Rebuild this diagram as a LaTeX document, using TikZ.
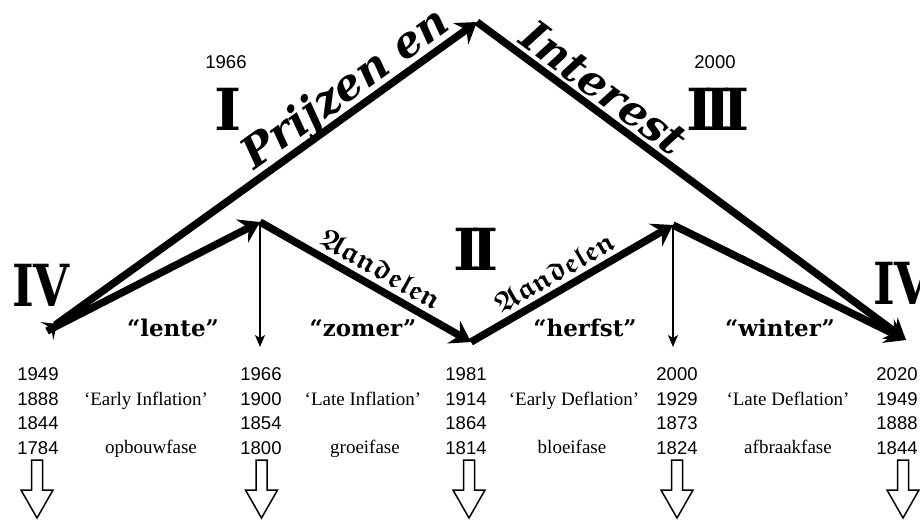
\documentclass[tikz,border=0pt]{standalone}
\usepackage{fontspec}
\usepackage{amsmath,amssymb}
\usepackage{graphicx}
\setmainfont{Liberation Serif}
\newfontfamily\sansf{Liberation Sans}
\newfontfamily\slabf{DejaVu Serif}
\usetikzlibrary{arrows.meta}
\tikzset{
  thickline/.style={line width=7.5pt, line join=miter},
  thinarrow/.style={line width=1.2pt, -{Stealth[length=12pt,width=10pt,inset=3pt]}},
  roman/.style={font=\slabf\bfseries\fontsize{58}{58}\selectfont, inner sep=0pt, anchor=base},
  season/.style={font=\slabf\bfseries\fontsize{23}{23}\selectfont, inner sep=0pt, anchor=base},
  years/.style={font=\sansf\fontsize{18.5}{24.5}\selectfont, align=center, inner sep=0pt},
  yeartop/.style={font=\sansf\fontsize{18.5}{18.5}\selectfont, inner sep=0pt, anchor=base},
  phase/.style={font=\fontsize{19}{19}\selectfont, inner sep=0pt, anchor=base},
  bigital/.style={font=\slabf\bfseries\itshape\fontsize{43}{43}\selectfont, inner sep=0pt},
  fraktur/.style={font=\fontsize{29}{29}\selectfont, inner sep=0pt},
  downarrow/.pic={\draw[line width=1.5pt, line join=miter]
     (-5.5,0) -- (5.5,0) -- (5.5,30) -- (16,30) -- (0,58) -- (-16,30) -- (-5.5,30) -- cycle;}
}
\begin{document}
\begin{tikzpicture}[x=1pt,y=-1pt,>={Stealth[length=20pt,width=26pt,inset=7pt]}]
\clip (0,0) rectangle (920,520);
\fill[white] (0,0) rectangle (920,520);
% main points
\coordinate (L) at (47,331);
\coordinate (A) at (477,22);
\coordinate (R) at (906,340);
\coordinate (P1) at (260,222);
\coordinate (V) at (471,342);
\coordinate (P2) at (673,225);
\coordinate (P1b) at (260,347);
\coordinate (P2b) at (673,347);
% big arrow
\draw[thickline,{Stealth[reversed,length=12pt,width=22pt,inset=5pt]}->] (L) -- (A)
  node[pos=0.725, sloped, above=-4pt, bigital] (prijzen) {Prijzen en};
\draw[thickline,->] (A) -- (R)
  node[pos=0.265, sloped, above=3pt, bigital] (interest) {Interest};
% inner zigzag
\draw[thickline,->] (L) -- (P1);
\draw[thickline,->] (P1) -- (V)
  node[pos=0.53, sloped, above=5pt, fraktur] (aand1) {{\boldmath$\mathfrak{Aandelen}$}};
\draw[thickline,->] (V) -- (P2)
  node[pos=0.46, sloped, above=5pt, fraktur] (aand2) {{\boldmath$\mathfrak{Aandelen}$}};
\draw[thickline,->] (P2) -- (R);
% thin arrows
\draw[thinarrow] (P1) -- (P1b);
\draw[thinarrow] (P2) -- (P2b);
% roman numerals
\node[roman] (rI) at (228,130) {I};
\node[roman] (rIII) at (718,130) {I\kern-9pt I\kern-9pt I};
\node[roman] (rII) at (476,270) {I\kern-9pt I};
\node[roman] (rIVl) at (41,306) {\scalebox{0.8}[1]{IV}};
\node[roman, anchor=base west] (rIVr) at (873,304) {\scalebox{0.8}[1]{IV}};
% top years
\node[yeartop] (y1966) at (226,68) {1966};
\node[yeartop] (y2000) at (715,68) {2000};
% seasons
\node[season] (lente) at (173,336) {“lente”};
\node[season] (zomer) at (363,336) {“zomer”};
\node[season] (herfst) at (585,336) {“herfst”};
\node[season] (winter) at (780,336) {“winter”};
% year columns
\node[years] (c1) at (38,411) {1949\\1888\\1844\\1784};
\node[years] (c2) at (261,411) {1966\\1900\\1854\\1800};
\node[years] (c3) at (466,411) {1981\\1914\\1864\\1814};
\node[years] (c4) at (677,411) {2000\\1929\\1873\\1824};
\node[years] (c5) at (897,411) {2020\\1949\\1888\\1844};
% phases
\node[phase] (ph1) at (146,405.5) {‘Early Inflation’};
\node[phase] (ph2) at (363,405.5) {‘Late Inflation’};
\node[phase] (ph3) at (574,405.5) {‘Early Deflation’};
\node[phase] (ph4) at (788,405.5) {‘Late Deflation’};
\node[phase] (f1) at (151,453.5) {opbouwfase};
\node[phase] (f2) at (365,453.5) {groeifase};
\node[phase] (f3) at (572,453.5) {bloeifase};
\node[phase] (f4) at (788,453.5) {afbraakfase};
% block arrows
\pic (b1) at (37,460) {downarrow};
\pic (b2) at (261.5,460) {downarrow};
\pic (b3) at (469,460) {downarrow};
\pic (b4) at (677,460) {downarrow};
\pic (b5) at (903,460) {downarrow};
\end{tikzpicture}
\end{document}
